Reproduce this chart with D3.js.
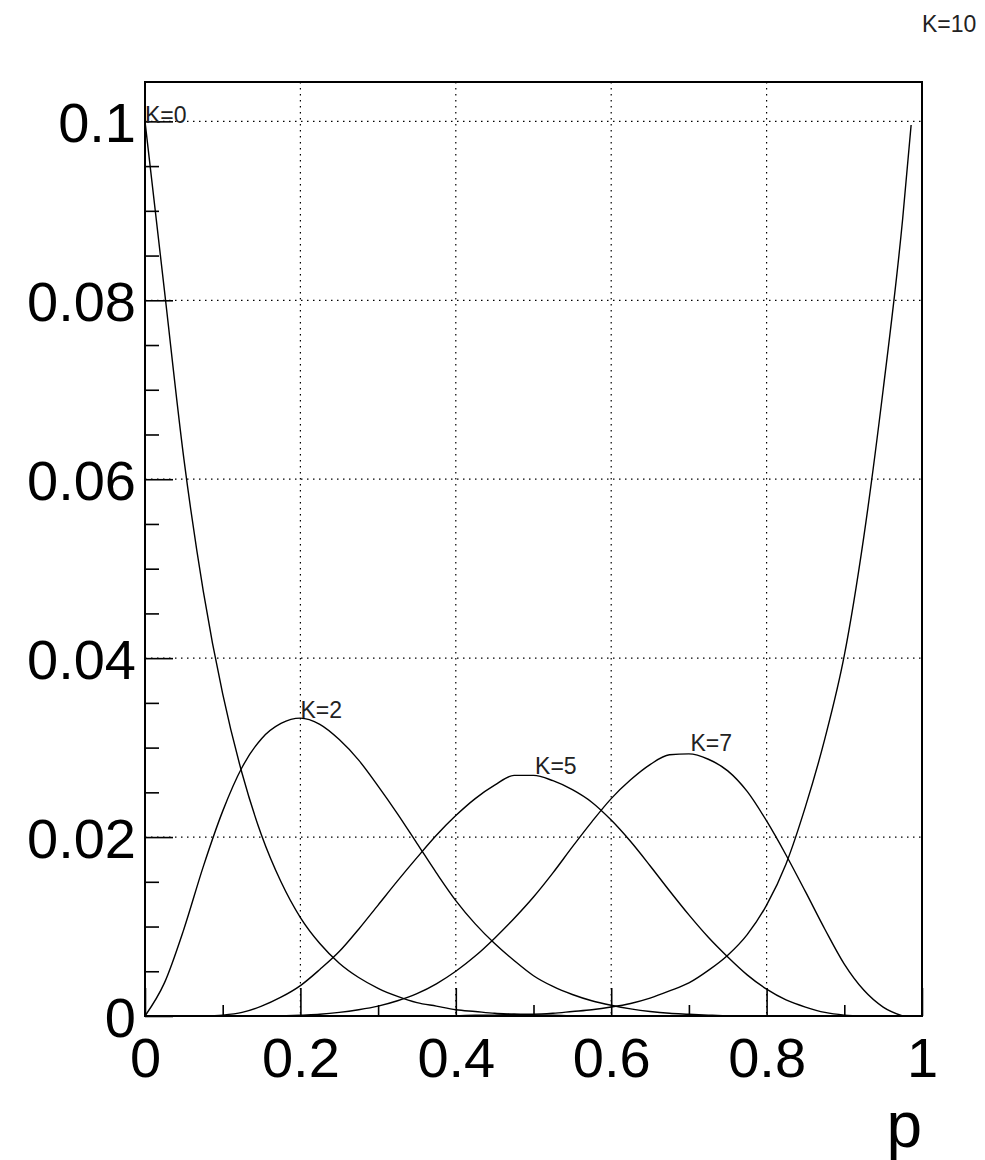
<!DOCTYPE html>
<html>
<head>
<meta charset="utf-8">
<script src="https://cdn.jsdelivr.net/npm/d3@7"></script>
<style>
  html, body { margin: 0; padding: 0; background: #fff; }
  svg text { font-family: "Liberation Sans", Arial, Helvetica, sans-serif; fill: #000; }
</style>
</head>
<body>
<div id="chart"></div>
<script>
// --- Data ---
const pGrid = [
  0, 0.025, 0.05, 0.075, 0.1, 0.125, 0.15, 0.175, 0.2, 0.225,
  0.25, 0.275, 0.3, 0.325, 0.35, 0.375, 0.4, 0.425, 0.45, 0.475,
  0.5, 0.525, 0.55, 0.575, 0.6, 0.625, 0.65, 0.675, 0.7, 0.725,
  0.75, 0.775, 0.8, 0.825, 0.85, 0.875, 0.9, 0.925, 0.95, 0.975,
  0.986
];

const k0Values = [
  0.1, 0.0811, 0.0623, 0.0475, 0.0360, 0.0271, 0.0202, 0.0150, 0.0110, 0.0081,
  0.0059, 0.0043, 0.0031, 0.0022, 0.0015, 0.0011, 0.0007, 0.0005, 0.0003, 0.0002,
  0.0001, 0.0001, 0, null, null, null, null, null, null, null,
  null, null, null, null, null, null, null, null, null, null,
  null
];

const k2Values = [
  0, 0.0037, 0.0097, 0.0167, 0.0229, 0.0278, 0.0310, 0.0327, 0.0333, 0.0326,
  0.0309, 0.0286, 0.0257, 0.0226, 0.0193, 0.0160, 0.0129, 0.0103, 0.0081, 0.0062,
  0.0045, 0.0033, 0.0024, 0.0017, 0.0012, 0.0008, 0.0005, 0.0003, 0.0002, 0.0001,
  0, null, null, null, null, null, null, null, null, null,
  null
];

const k5Values = [
  null, null, null, 0, 0.0001, 0.0004, 0.0011, 0.0021, 0.0034, 0.0052,
  0.0072, 0.0097, 0.0124, 0.0151, 0.0177, 0.0202, 0.0224, 0.0243, 0.0258, 0.0269,
  0.0269, 0.0263, 0.0253, 0.0239, 0.0219, 0.0195, 0.0168, 0.0140, 0.0113, 0.0088,
  0.0066, 0.0046, 0.0030, 0.0018, 0.0010, 0.0004, 0.0001, 0, null, null,
  null
];

const k7Values = [
  null, null, null, null, null, null, null, 0, 0.0001, 0.0002,
  0.0004, 0.0007, 0.0011, 0.0017, 0.0025, 0.0036, 0.0050, 0.0067, 0.0087, 0.0109,
  0.0133, 0.0160, 0.0189, 0.0217, 0.0243, 0.0264, 0.0281, 0.0292, 0.0293, 0.0287,
  0.0274, 0.0251, 0.0218, 0.0180, 0.0139, 0.0097, 0.0058, 0.0029, 0.0010, 0,
  null
];

const k10Values = [
  null, null, null, null, null, null, null, null, null, null,
  null, null, null, null, null, 0, 0, 0.0001, 0.0001, 0.0002,
  0.0002, 0.0003, 0.0005, 0.0007, 0.0010, 0.0014, 0.0020, 0.0028, 0.0037, 0.0051,
  0.0068, 0.0091, 0.0124, 0.0170, 0.0234, 0.0310, 0.0403, 0.0535, 0.0700, 0.0890,
  0.0996
];

const curveLabels = ["K=0", "K=2", "K=5", "K=7", "K=10"];
const labelP = [0, 0.2, 0.502, 0.702, 1.0];
const labelV = [0.0998, 0.0333, 0.0271, 0.0296, 0.110];

const xMajorTicks = [0, 0.2, 0.4, 0.6, 0.8, 1];
const xMinorTicks = [0.1, 0.3, 0.5, 0.7, 0.9];
const yMajorTicks = [0, 0.02, 0.04, 0.06, 0.08, 0.1];
const yMinorTicks = [0.005, 0.01, 0.015, 0.025, 0.03, 0.035, 0.045, 0.05, 0.055,
  0.065, 0.07, 0.075, 0.085, 0.09, 0.095];
const xTitle = "p";

// --- Layout ---
const width = 985;
const height = 1160;
const frame = { left: 145, right: 922, top: 82, bottom: 1016 };

const x = d3.scaleLinear().domain([0, 1]).range([frame.left, frame.right]);
const y = d3.scaleLinear().domain([0, 0.1044]).range([frame.bottom, frame.top]);

const svg = d3.select("#chart").append("svg")
  .attr("width", width)
  .attr("height", height);

// --- Grid (dotted, at major ticks) ---
svg.append("g")
  .selectAll("line")
  .data(xMajorTicks.filter(d => d > 0 && d < 1))
  .join("line")
  .attr("x1", d => x(d)).attr("x2", d => x(d))
  .attr("y1", frame.top).attr("y2", frame.bottom)
  .attr("stroke", "#000")
  .attr("stroke-width", 1.2)
  .attr("stroke-dasharray", "1.5,4.5");

svg.append("g")
  .selectAll("line")
  .data(yMajorTicks.filter(d => d > 0))
  .join("line")
  .attr("x1", frame.left).attr("x2", frame.right)
  .attr("y1", d => y(d)).attr("y2", d => y(d))
  .attr("stroke", "#000")
  .attr("stroke-width", 1.2)
  .attr("stroke-dasharray", "1.5,4.5");

// --- Curves ---
const series = [k0Values, k2Values, k5Values, k7Values, k10Values];

const line = d3.line()
  .defined(d => d[1] !== null)
  .x(d => x(d[0]))
  .y(d => y(d[1]))
  .curve(d3.curveMonotoneX);

series.forEach(values => {
  svg.append("path")
    .datum(pGrid.map((p, i) => [p, values[i]]))
    .attr("fill", "none")
    .attr("stroke", "#000")
    .attr("stroke-width", 1.4)
    .attr("d", line);
});

// --- Axes (ROOT style: ticks inside the frame) ---
const xAxis = svg.append("g")
  .attr("transform", `translate(0,${frame.bottom})`)
  .call(d3.axisBottom(x).tickValues(xMajorTicks).tickSize(-28).tickFormat(d3.format("")));
svg.append("g")
  .attr("transform", `translate(0,${frame.bottom})`)
  .call(d3.axisBottom(x).tickValues(xMinorTicks).tickSize(-11).tickFormat(""));

const yAxis = svg.append("g")
  .attr("transform", `translate(${frame.left},0)`)
  .call(d3.axisLeft(y).tickValues(yMajorTicks).tickSize(-28).tickFormat(d3.format("")));
svg.append("g")
  .attr("transform", `translate(${frame.left},0)`)
  .call(d3.axisLeft(y).tickValues(yMinorTicks).tickSize(-14).tickFormat(""));

svg.selectAll(".domain").remove();
svg.selectAll(".tick line").attr("stroke", "#000").attr("stroke-width", 1.6);

xAxis.selectAll("text")
  .attr("y", 61)
  .attr("dy", null)
  .style("font-size", "56px");

yAxis.selectAll("text")
  .attr("x", -9)
  .attr("dy", "0.36em")
  .style("font-size", "56px");

// Frame
svg.append("rect")
  .attr("x", frame.left)
  .attr("y", frame.top)
  .attr("width", frame.right - frame.left)
  .attr("height", frame.bottom - frame.top)
  .attr("fill", "none")
  .attr("stroke", "#000")
  .attr("stroke-width", 2);

// Axis title
svg.append("text")
  .attr("x", frame.right)
  .attr("y", 1147)
  .attr("text-anchor", "end")
  .style("font-size", "64px")
  .text(xTitle);

// --- Curve labels ---
svg.append("g")
  .selectAll("text")
  .data(curveLabels)
  .join("text")
  .attr("x", (d, i) => x(labelP[i]))
  .attr("y", (d, i) => y(labelV[i]))
  .style("font-size", "23px")
  .style("fill", "#222")
  .text(d => d);
</script>
</body>
</html>
